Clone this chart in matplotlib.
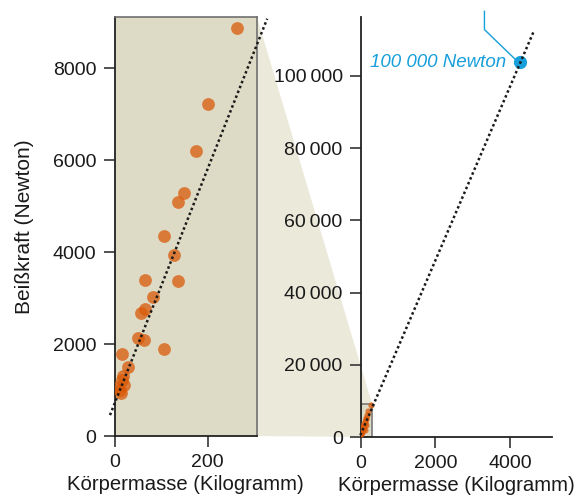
import matplotlib.pyplot as plt
import numpy as np
from matplotlib.patches import Polygon, Rectangle

plt.rcParams['font.family'] = ['Liberation Sans', 'DejaVu Sans']

# body mass (kg) and bite force (N)
mass = [264, 200, 176, 149, 137, 106, 127, 66, 137, 82, 66, 56, 50, 64, 107,
        15, 29, 17, 20, 15, 11, 13, 8]
force = [8880, 7230, 6190, 5290, 5080, 4355, 3940, 3390, 3370, 3015, 2755, 2680,
         2125, 2090, 1890, 1785, 1495, 1310, 1110, 1215, 1000, 930, 1070]

# extrapolated giant
big_mass = [4265]
big_force = [103800]
big_label = '100 000 Newton'

# dotted trend line: (intercept, slope, x range) per panel
fit_left = (710, 25.5, [-10, 328])
fit_right = (750, 24.1, [-10, 4624])

left_xlim, left_ylim = 306, 9110
right_xlim, right_ylim = 5120, 116300

left_yticks = [0, 2000, 4000, 6000, 8000]
left_xticks = [0, 200]
right_yticks = [0, 20000, 40000, 60000, 80000, 100000]
right_xticks = [0, 2000, 4000]

box_face = '#dddbc5'
wedge_face = '#ebe9da'
box_edge = '#707070'
dot_col = '#da5a0a'
blue = '#169fdb'
txt = '#1a1a1a'

fig = plt.figure(figsize=(5.82, 4.97), dpi=100)
ax1 = fig.add_axes([0.197, 0.1227, 0.2445, 0.843])
ax2 = fig.add_axes([0.6198, 0.1207, 0.3287, 0.845])

# left panel (zoom)
ax1.set_facecolor(box_face)
ax1.scatter(mass, force, s=85, color=dot_col, alpha=0.75, linewidths=0, zorder=3)
xs = np.array(fit_left[2])
ax1.plot(xs, fit_left[0] + fit_left[1] * xs, color='#1a1a1a', lw=1.8,
         linestyle=(0, (1, 1.1)), clip_on=False, zorder=4)
ax1.set_xlim(0, left_xlim)
ax1.set_ylim(0, left_ylim)
ax1.set_xticks(left_xticks)
ax1.set_yticks(left_yticks)
ax1.set_ylabel('Beißkraft (Newton)', fontsize=15, color=txt, labelpad=14)
ax1.set_xlabel('Körpermasse (Kilogramm)', fontsize=14.6, color=txt, labelpad=3)
for s in ['top', 'right']:
    ax1.spines[s].set_color(box_edge)
    ax1.spines[s].set_linewidth(1.2)
for s in ['left', 'bottom']:
    ax1.spines[s].set_color('#222222')
    ax1.spines[s].set_linewidth(1.3)

# right panel (full range)
ax2.set_facecolor('none')
ax2.add_patch(Rectangle((0, 0), left_xlim, left_ylim, facecolor=box_face,
                        edgecolor=box_edge, lw=1.1, zorder=1))
ax2.scatter(mass, force, s=20, color=dot_col, alpha=0.75, linewidths=0, zorder=3)
xs = np.array(fit_right[2])
ax2.plot(xs, fit_right[0] + fit_right[1] * xs, color='#1a1a1a', lw=1.8,
         linestyle=(0, (1, 1.1)), clip_on=False, zorder=4)
ax2.scatter(big_mass, big_force, s=90, color=blue, linewidths=0, zorder=3, clip_on=False)
ax2.plot([4133, 3311, 3311], [104620, 112840, 117900], color=blue, lw=1,
         clip_on=False, zorder=2)
ax2.text(big_mass[0] - 380, big_force[0], big_label, color=blue, fontsize=13.5,
         style='italic', ha='right', va='center')
ax2.set_xlim(0, right_xlim)
ax2.set_ylim(0, right_ylim)
ax2.set_xticks(right_xticks)
ax2.set_yticks(right_yticks)
ax2.set_yticklabels([f'{v:,}'.replace(',', '\u2009') for v in right_yticks])
ax2.set_xlabel('Körpermasse (Kilogramm)', fontsize=14.6, color=txt, labelpad=3)
ax2.spines['top'].set_visible(False)
ax2.spines['right'].set_visible(False)
for s in ['left', 'bottom']:
    ax2.spines[s].set_color('#222222')
    ax2.spines[s].set_linewidth(1.3)

for ax in (ax1, ax2):
    ax.tick_params(labelsize=14, colors=txt, length=8, width=1.3, pad=5)
    ax.tick_params(axis='both', color='#444444')

# wedge joining the zoom box to the small box
inv = fig.transFigure.inverted()
p1 = inv.transform(ax1.transAxes.transform((1, 1)))
p2 = inv.transform(ax1.transAxes.transform((1, 0)))
p3 = inv.transform(ax2.transData.transform((left_xlim, left_ylim)))
p4 = inv.transform(ax2.transData.transform((left_xlim, 0)))
fig.add_artist(Polygon([p1, p3, p4, p2], closed=True, facecolor=wedge_face,
                       edgecolor='none', transform=fig.transFigure, zorder=-1))

fig.savefig('out.png', dpi=100)
